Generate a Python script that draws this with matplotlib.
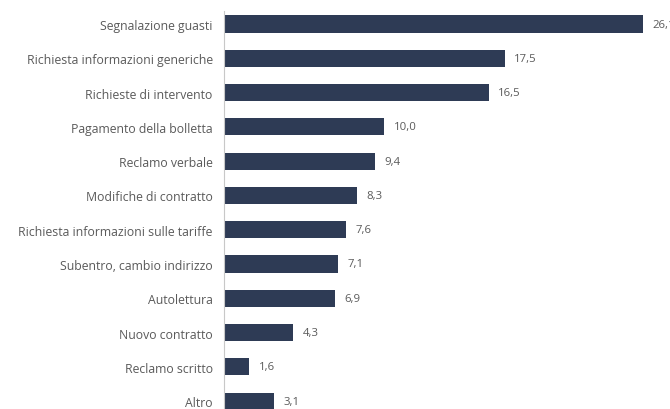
import matplotlib.pyplot as plt

plt.rcParams['font.family'] = ['Open Sans', 'DejaVu Sans']

categories = [
    "Segnalazione guasti",
    "Richiesta informazioni generiche",
    "Richieste di intervento",
    "Pagamento della bolletta",
    "Reclamo verbale",
    "Modifiche di contratto",
    "Richiesta informazioni sulle tariffe",
    "Subentro, cambio indirizzo",
    "Autolettura",
    "Nuovo contratto",
    "Reclamo scritto",
    "Altro",
]
values = [26.1, 17.5, 16.5, 10.0, 9.4, 8.3, 7.6, 7.1, 6.9, 4.3, 1.6, 3.1]

bar_color = "#2e3b55"
text_color = "#5a5a5a"

fig = plt.figure(figsize=(6.7, 4.1), dpi=100)
ax = fig.add_axes([0.334, 0.0, 0.666, 0.9707])

ypos = list(range(len(categories)))
ax.barh(ypos, values, height=0.5, color=bar_color)

for y, v in zip(ypos, values):
    ax.annotate(f"{v:.1f}".replace(".", ","), xy=(v, y), xytext=(7, 0),
                textcoords="offset points", va="center", ha="left",
                fontsize=8.2, color=text_color, annotation_clip=False)

ax.set_xlim(0, 27.8)
ax.set_ylim(11.23, -0.38)
ax.set_yticks(ypos)
ax.set_yticklabels(categories, fontsize=8.8, color=text_color)
ax.tick_params(axis="y", length=0, pad=8)
ax.set_xticks([])

for side in ["top", "right", "bottom"]:
    ax.spines[side].set_visible(False)
ax.spines["left"].set_color("#c8c8c8")
ax.spines["left"].set_linewidth(0.8)

fig.savefig("out.png", dpi=100)
